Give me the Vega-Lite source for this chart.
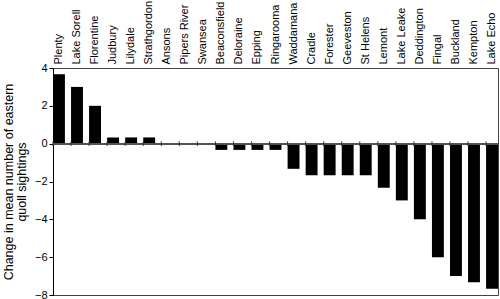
{
  "$schema": "https://vega.github.io/schema/vega-lite/v6.json",
  "width": 445,
  "height": 227,
  "autosize": {"type": "none"},
  "padding": {"left": 53, "top": 68, "right": 2, "bottom": 4},
  "config": {
    "font": "Liberation Sans",
    "view": {"stroke": "#444", "strokeWidth": 1},
    "axis": {"labelFont": "Liberation Sans", "titleFont": "Liberation Sans", "labelColor": "#000", "titleColor": "#000", "grid": false},
    "axisY": {"labelOverlap": false, "tickCount": 7}
  },
  "data": {
    "values": [
      {"site": "Plenty", "change": 3.67},
      {"site": "Lake Sorell", "change": 3.0},
      {"site": "Florentine", "change": 2.0},
      {"site": "Judbury", "change": 0.33},
      {"site": "Lilydale", "change": 0.33},
      {"site": "Strathgordon", "change": 0.33},
      {"site": "Ansons", "change": 0},
      {"site": "Pipers River", "change": 0},
      {"site": "Swansea", "change": 0},
      {"site": "Beaconsfield", "change": -0.33},
      {"site": "Deloraine", "change": -0.33},
      {"site": "Epping", "change": -0.33},
      {"site": "Ringarooma", "change": -0.33},
      {"site": "Waddamana", "change": -1.33},
      {"site": "Cradle", "change": -1.67},
      {"site": "Forester", "change": -1.67},
      {"site": "Geeveston", "change": -1.67},
      {"site": "St Helens", "change": -1.67},
      {"site": "Lemont", "change": -2.33},
      {"site": "Lake Leake", "change": -3.0},
      {"site": "Deddington", "change": -4.0},
      {"site": "Fingal", "change": -6.0},
      {"site": "Buckland", "change": -7.0},
      {"site": "Kempton", "change": -7.33},
      {"site": "Lake Echo", "change": -7.67}
    ]
  },
  "encoding": {
    "x": {
      "field": "site",
      "type": "nominal",
      "sort": null,
      "scale": {"paddingInner": 0.34, "paddingOuter": 0},
      "axis": {
        "orient": "top",
        "title": null,
        "labelAngle": -90,
        "labelFontSize": 11,
        "labelPadding": 4,
        "ticks": false,
        "domain": false
      }
    }
  },
  "layer": [
    {
      "mark": {"type": "bar", "color": "#000"},
      "encoding": {
        "y": {
          "field": "change",
          "type": "quantitative",
          "scale": {"domain": [-8, 4], "nice": false},
          "axis": {
            "title": ["Change in mean number of eastern", "quoll sightings"],
            "titleFontSize": 12.5,
            "titleFontWeight": "normal",
            "titleLineHeight": 13,
            "titlePadding": 6,
            "values": [-8, -6, -4, -2, 0, 2, 4],
            "labelOverlap": false,
            "labelFontSize": 11,
            "labelPadding": 2,
            "tickSize": 4,
            "tickColor": "#000",
            "domainColor": "#000"
          }
        }
      }
    },
    {
      "mark": {"type": "rule", "color": "#555", "strokeWidth": 1},
      "encoding": {
        "x": null,
        "y": {"datum": 0, "type": "quantitative"}
      }
    },
    {
      "mark": {"type": "rule", "color": "#333", "strokeWidth": 1},
      "encoding": {
        "x": {"field": "site", "type": "nominal", "sort": null, "bandPosition": 0},
        "y": {"datum": 0.12, "type": "quantitative"},
        "y2": {"datum": -0.12}
      }
    }
  ]
}
